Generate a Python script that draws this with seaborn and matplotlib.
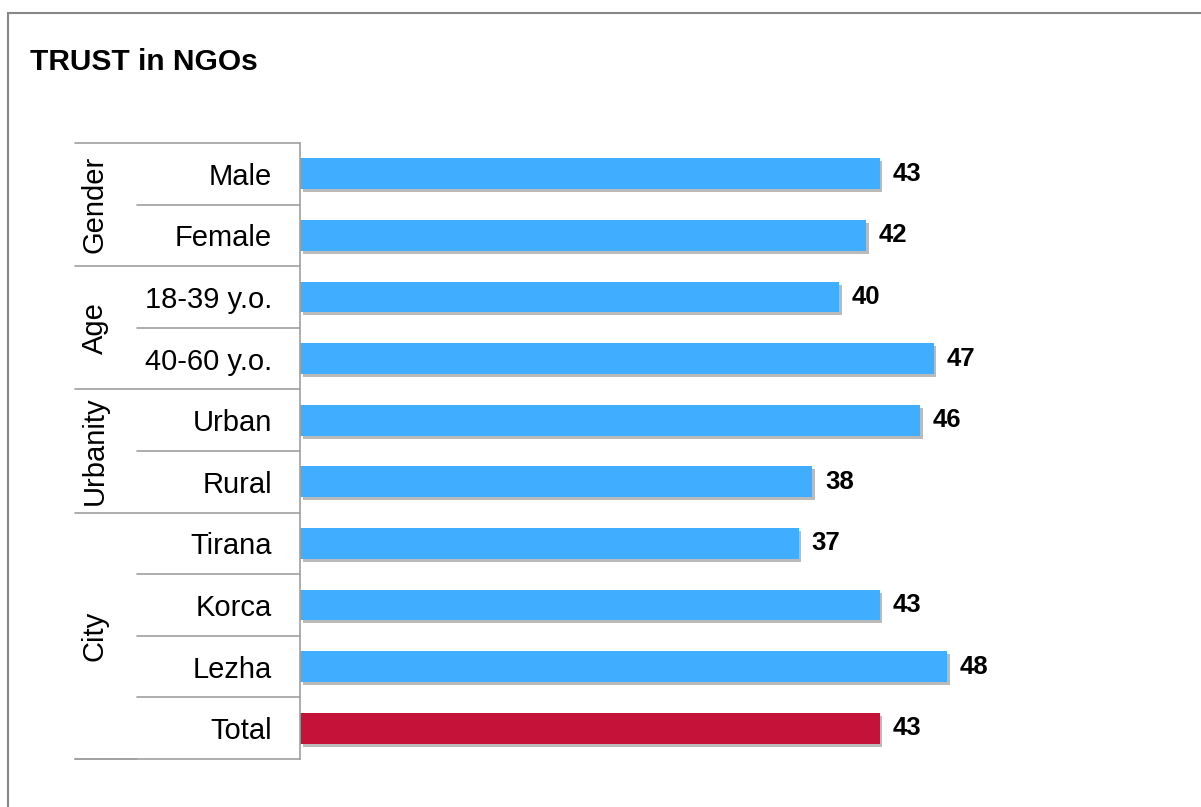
import pandas as pd
import numpy as np
import matplotlib.pyplot as plt
import matplotlib.patheffects as pe
from matplotlib.transforms import blended_transform_factory
import seaborn as sns

# data
categories = ["Male", "Female", "18-39 y.o.", "40-60 y.o.", "Urban", "Rural",
              "Tirana", "Korca", "Lezha", "Total"]
values = [43, 42, 40, 47, 46, 38, 37, 43, 48, 43]
bar_colors = ["#41ADFF"] * 9 + ["#C41239"]
groups = ["Gender", "Age", "Urbanity", "City"]
group_rows = [(0, 1), (2, 3), (4, 5), (6, 9)]

df = pd.DataFrame({"category": categories, "value": values})

sns.set_style("white")
plt.rcParams['font.family'] = ['Liberation Sans', 'DejaVu Sans']
plt.rcParams['text.color'] = 'black'
plt.rcParams['ytick.color'] = 'black'

W, H = 1201, 807
fig = plt.figure(figsize=(W / 100, H / 100), dpi=100)
ax = fig.add_axes([300 / W, 48 / H, 809 / W, 616 / H])

sns.barplot(data=df, y="category", x="value", hue="category",
            palette=bar_colors, legend=False, width=0.5, orient="h", ax=ax,
            saturation=1, linewidth=0)

shadow = [pe.SimplePatchShadow(offset=(1.8, -2.2), shadow_rgbFace="#777777", alpha=0.5),
          pe.Normal()]
for p in ax.patches:
    p.set_path_effects(shadow)

for c in ax.containers:
    ax.bar_label(c, padding=9, fontsize=18.5, fontweight="bold", color="black")

ax.set_xlim(0, 60)
ax.set_ylim(len(categories) - 0.5, -0.5)
ax.set_xlabel("")
ax.set_ylabel("")
ax.set_xticks([])
ax.tick_params(axis="y", length=0, pad=20, labelsize=21, labelcolor="black")

for s in ["top", "right", "bottom"]:
    ax.spines[s].set_visible(False)
ax.spines["left"].set_color("#A0A0A0")
ax.spines["left"].set_linewidth(1.2)

# table lines on the left
line_col = "#A0A0A0"
tr = blended_transform_factory(fig.transFigure, ax.transData)
group_edges = set([-0.5] + [b + 0.5 for a, b in group_rows])
for k in range(len(categories) + 1):
    y = k - 0.5
    x0 = 75 / W if y in group_edges and y != 8.5 else 137 / W
    ax.plot([x0, 300 / W], [y, y], color=line_col, lw=1.2, transform=tr, clip_on=False)
ax.plot([75 / W, 137 / W], [9.5, 9.5], color=line_col, lw=1.2, transform=tr, clip_on=False)

for g, (a, b) in zip(groups, group_rows):
    ax.text(95 / W, (a + b) / 2, g, rotation=90, ha="center", va="center",
            fontsize=21, color="black", transform=tr)

fig.text(30 / W, 1 - 62 / H, "TRUST in NGOs", fontsize=21.5, fontweight="bold",
         color="black", ha="left", va="center")

# outer frame
fig.patches.append(plt.Rectangle((8 / W, -0.1), 1.2, 1.1 - 13 / H, fill=False,
                                 edgecolor="#888888", lw=1.5, transform=fig.transFigure))

fig.savefig("out.png", dpi=100)
